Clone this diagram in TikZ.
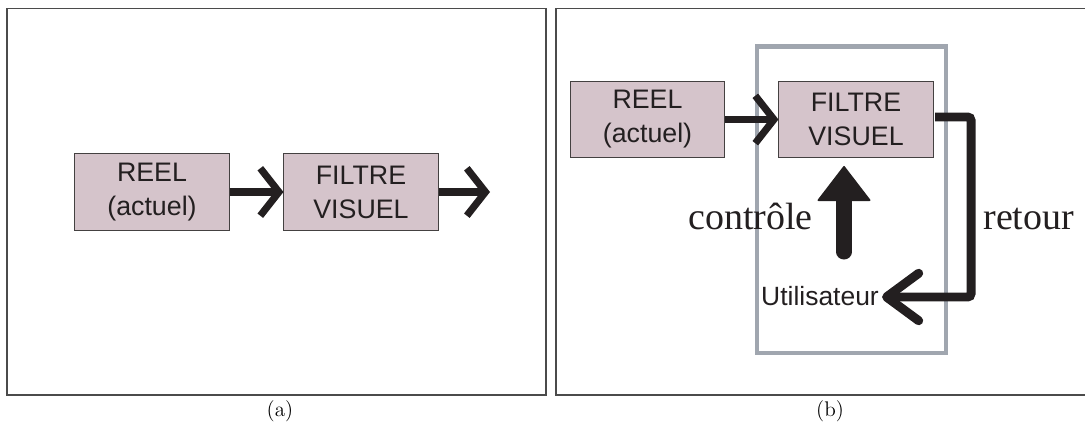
\documentclass[tikz,border=0pt]{standalone}
\usepackage{fontspec}
\newfontfamily\arialf{Liberation Sans}
\newfontfamily\timesf{Liberation Serif}
\usetikzlibrary{arrows.meta,calc}
\definecolor{boxfill}{RGB}{213,196,203}
\definecolor{ink}{RGB}{35,31,32}
\definecolor{framegray}{RGB}{160,166,175}
\definecolor{panelline}{RGB}{75,75,75}
\begin{document}
\begin{tikzpicture}[x=0.59pt,y=-0.59pt,
  blk/.style={draw=ink!85, line width=0.6pt, fill=boxfill, minimum width=90.9pt,
    minimum height=45pt, inner sep=0pt, text=ink, align=center,
    font=\arialf\fontsize{15.8}{20}\selectfont},
  flow/.style={draw=ink, line width=4.2pt, -{Straight Barb[length=11pt,width=28pt]}},
  fback/.style={draw=ink, line width=5.3pt, rounded corners=2pt,
    -{Straight Barb[length=19pt,width=28pt,round]}},
  ctrlarrow/.style={draw=ink, fill=ink, line width=8.9pt, line cap=round,
    -{Triangle[length=21pt,width=32pt,round,line width=1pt]}},
  label/.style={text=ink, inner sep=0pt, font=\timesf\fontsize{22.4}{26}\selectfont},
  panel/.style={draw=panelline, line width=0.8pt},
  caption/.style={inner sep=0pt, font=\fontsize{12.5}{15}\selectfont}]
\useasboundingbox (0,0) rectangle (1085,433);
\clip (0,0) rectangle (1085,433);
% panel frames
\draw[panel] (7,8.5) rectangle (546,395);
\draw[panel] (556,8.5) rectangle (1095,395);
\node[caption] (capa) at (280,411) {(a)};
\node[caption] (capb) at (830,411) {(b)};
% ---- panel (a)
\node[blk] (reelA) at (152,192) {REEL\\(actuel)};
\node[blk] (filtreA) at (361,192) {FILTRE\\VISUEL};
\coordinate (outA) at (490,192);
\draw[flow] (reelA.east) -- (filtreA.west);
\draw[flow] (filtreA.east) -- (outA);
% ---- panel (b)
\draw[framegray, line width=2.4pt] (757,46.5) rectangle (946,353);
\node[blk] (reelB) at (647.5,119.5) {REEL\\(actuel)};
\node[blk] (filtreB) at (856,119.5) {FILTRE\\VISUEL};
\node[text=ink, inner sep=0pt, font=\arialf\fontsize{15.6}{18}\selectfont] (user) at (820,296) {Utilisateur};
\coordinate (fbstart) at (935,117);
\coordinate (fbtip) at (882,297);
\coordinate (ctip) at (844,166);
\coordinate (ctail) at (844,252);
\draw[flow] (reelB.east) -- (filtreB.west);
\draw[fback] (fbstart) -- (971,117) -- (971,297) -- (fbtip);
\draw[ctrlarrow] (ctail) -- (ctip);
\node[label, anchor=base west] (ctrl) at (688,230) {contrôle};
\node[label, anchor=base west] (ret) at (983,230) {retour};
\end{tikzpicture}
\end{document}
